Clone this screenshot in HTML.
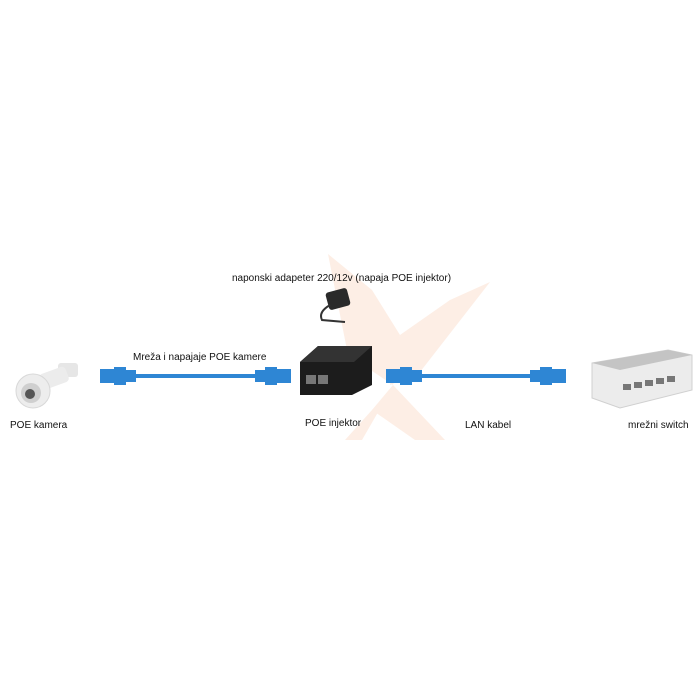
<!DOCTYPE html>
<html><head><style>
html,body{margin:0;padding:0;background:#fff;}
svg{display:block;}
text{font-family:"Liberation Sans",sans-serif;font-size:10px;fill:#111;}
</style></head><body>
<svg width="700" height="700" viewBox="0 0 700 700" xmlns="http://www.w3.org/2000/svg">
<rect width="700" height="700" fill="#fff"/>
<!-- watermark -->
<g fill="#fdeee5">
<polygon points="328,254 372,290 400,335 393,385 348,355"/>
<polygon points="490,282 450,300 400,335 390,385 420,372"/>
<polygon points="393,385 445,440 415,440 372,410"/>
<polygon points="372,410 345,440 362,440 385,400"/>
</g>
<!-- texts -->
<text x="232" y="281">naponski adapeter 220/12v (napaja POE injektor)</text>
<text x="133" y="360">Mreža i napajaje POE kamere</text>
<text x="10" y="428">POE kamera</text>
<text x="305" y="426">POE injektor</text>
<text x="465" y="428">LAN kabel</text>
<text x="628" y="428">mrežni switch</text>
<!-- camera -->
<g>
<rect x="58" y="363" width="20" height="14" rx="3" fill="#e6e6e6"/>
<rect x="40" y="370" width="28" height="16" rx="4" fill="#ececec" transform="rotate(-20 54 378)"/>
<circle cx="33" cy="391" r="17" fill="#ededed" stroke="#d8d8d8"/>
<circle cx="31" cy="393" r="10" fill="#cfcfcf"/>
<circle cx="30" cy="394" r="5" fill="#555"/>
</g>
<!-- adapter -->
<g>
<rect x="327" y="290" width="22" height="18" rx="3" fill="#2a2a2a" transform="rotate(-15 338 299)"/>
<path d="M330 305 Q318 312 322 320 L345 322" stroke="#333" stroke-width="2" fill="none"/>
</g>
<!-- injector -->
<g>
<polygon points="300,362 318,346 372,346 372,385 352,395 300,395" fill="#1c1c1c"/>
<polygon points="300,362 318,346 372,346 354,362" fill="#333"/>
<rect x="306" y="375" width="10" height="9" fill="#777"/>
<rect x="318" y="375" width="10" height="9" fill="#777"/>
</g>
<!-- cables -->
<g fill="#2e86d4">
<rect x="125" y="374" width="145" height="4"/>
<rect x="100" y="369" width="14" height="14"/>
<rect x="114" y="367" width="12" height="18"/>
<rect x="126" y="370" width="10" height="12"/>
<rect x="255" y="370" width="10" height="12"/>
<rect x="265" y="367" width="12" height="18"/>
<rect x="277" y="369" width="14" height="14"/>
<rect x="405" y="374" width="160" height="4"/>
<rect x="386" y="369" width="14" height="14"/>
<rect x="400" y="367" width="12" height="18"/>
<rect x="412" y="370" width="10" height="12"/>
<rect x="530" y="370" width="10" height="12"/>
<rect x="540" y="367" width="12" height="18"/>
<rect x="552" y="369" width="14" height="14"/>
</g>
<!-- switch -->
<g>
<polygon points="592,363 668,350 692,355 692,390 620,408 592,398" fill="#ececec" stroke="#d0d0d0"/>
<polygon points="592,363 668,350 692,355 620,370" fill="#c4c4c4"/>
<g fill="#777">
<rect x="623" y="384" width="8" height="6"/><rect x="634" y="382" width="8" height="6"/>
<rect x="645" y="380" width="8" height="6"/><rect x="656" y="378" width="8" height="6"/>
<rect x="667" y="376" width="8" height="6"/>
</g>
</g>
</svg>
</body></html>
